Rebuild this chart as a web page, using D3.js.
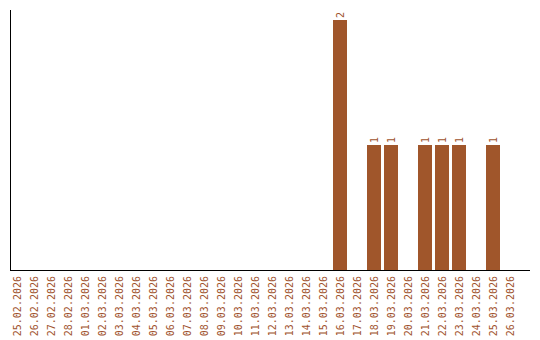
<!DOCTYPE html>
<html>
<head>
<meta charset="utf-8">
<script src="https://cdn.jsdelivr.net/npm/d3@7"></script>
<style>
  body { margin: 0; background: #fff; }
  text { font-family: "DejaVu Sans Mono", monospace; font-size: 10px; fill: #a0522d; }
</style>
</head>
<body>
<svg id="chart" width="540" height="340"></svg>
<script>
/*** Chart data ***/
const dates = [
  "25.02.2026", "26.02.2026", "27.02.2026", "28.02.2026",
  "01.03.2026", "02.03.2026", "03.03.2026", "04.03.2026", "05.03.2026",
  "06.03.2026", "07.03.2026", "08.03.2026", "09.03.2026", "10.03.2026",
  "11.03.2026", "12.03.2026", "13.03.2026", "14.03.2026", "15.03.2026",
  "16.03.2026", "17.03.2026", "18.03.2026", "19.03.2026", "20.03.2026",
  "21.03.2026", "22.03.2026", "23.03.2026", "24.03.2026", "25.03.2026",
  "26.03.2026"
];
const counts = [
  0, 0, 0, 0,
  0, 0, 0, 0, 0,
  0, 0, 0, 0, 0,
  0, 0, 0, 0, 0,
  2, 0, 1, 1, 0,
  1, 1, 1, 0, 1,
  0
];
const yMax = 2;

const barColor = "#a0562b";
const svg = d3.select("#chart");
const base = 270;

// Scales
const x = d3.scaleBand()
    .domain(dates)
    .range([8.5, 518.5])
    .paddingInner(3 / 17)
    .paddingOuter(1.5 / 17);
const y = d3.scaleLinear().domain([0, yMax]).range([base, 20]);

let rows = dates.map((d, i) => ({date: d, value: counts[i]}));

// Bars
svg.selectAll(".bar")
    .data(rows.filter(d => d.value > 0)).enter()
    .append("rect")
        .attr("class", "bar")
        .attr("x", d => x(d.date))
        .attr("y", d => y(d.value))
        .attr("width", x.bandwidth())
        .attr("height", d => base - y(d.value))
        .attr("fill", barColor);

// Value labels
svg.selectAll(".val")
    .data(rows.filter(d => d.value > 0)).enter()
    .append("text")
        .attr("class", "val")
        .attr("transform", d => "translate(" + (x(d.date) + x.bandwidth() / 2) + "," + (y(d.value) - 2) + ") rotate(-90)")
        .attr("dy", "0.35em")
        .text(d => d.value);

// Axis lines
svg.append("line")
    .attr("x1", 10.5).attr("x2", 10.5)
    .attr("y1", 10).attr("y2", base + 1)
    .attr("stroke", "#000");
svg.append("line")
    .attr("x1", 10).attr("x2", 530)
    .attr("y1", base + 0.5).attr("y2", base + 0.5)
    .attr("stroke", "#000");

// Date labels
svg.selectAll(".tick-label")
    .data(dates).enter()
    .append("text")
        .attr("class", "tick-label")
        .attr("transform", d => "translate(" + (x(d) + x.bandwidth() / 2) + "," + (base + 6) + ") rotate(-90)")
        .attr("dy", "0.35em")
        .style("text-anchor", "end")
        .text(d => d);
</script>
</body>
</html>
